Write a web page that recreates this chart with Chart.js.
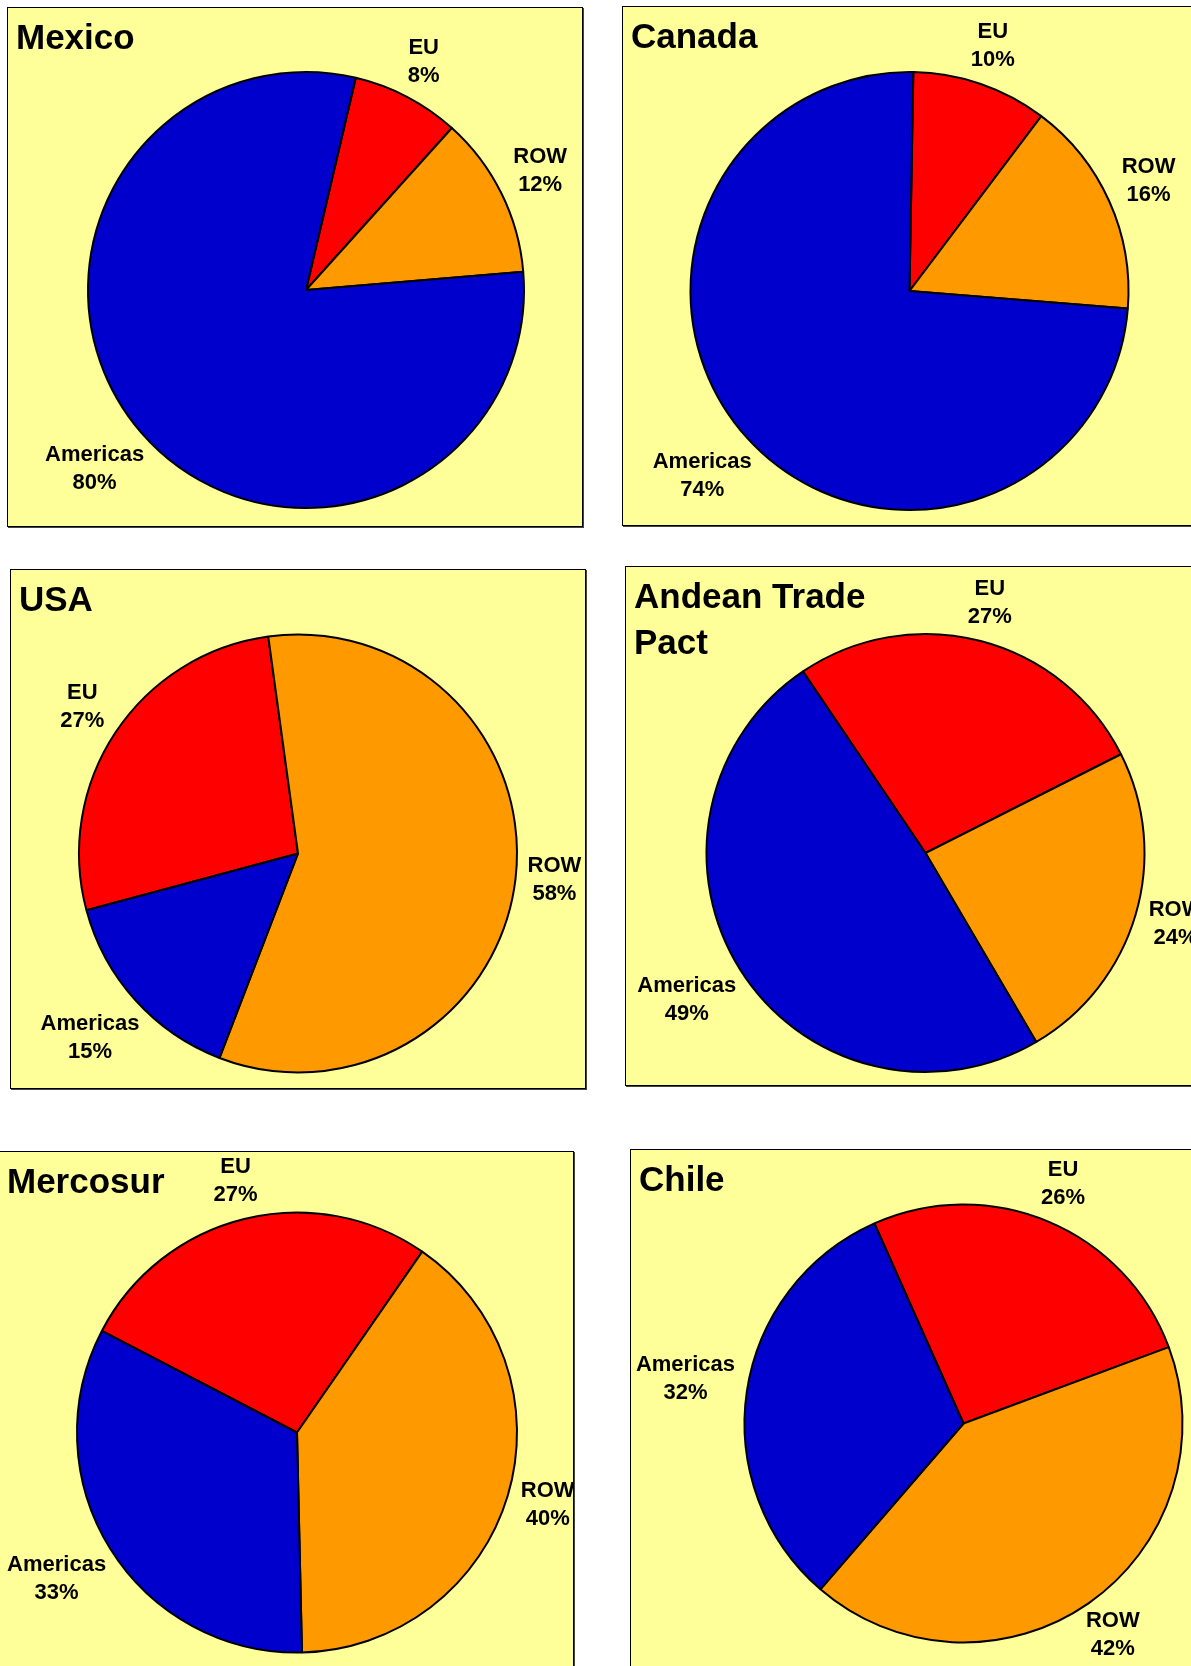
<!DOCTYPE html><html lang="en"><head><meta charset="utf-8">
<title>Export shares by destination</title>
<script src="https://cdn.jsdelivr.net/npm/chart.js@4.4.0/dist/chart.umd.min.js"></script>
<style>
  html, body { margin: 0; padding: 0; width: 1191px; height: 1666px; overflow: hidden; background: #fff; }
  .panel {
    position: absolute;
    box-sizing: border-box;
    width: 576px;
    height: 520px;
    background: #ffff99;
    border: 1px solid #000;
    box-shadow: 1px 1px 0 #444;
  }
  .panel canvas { position: absolute; left: 0; top: 0; }
</style>
</head>
<body>
<div id="charts"></div>

<script>
// data
const regions = ['Mexico', 'Canada', 'USA', ['Andean Trade', 'Pact'], 'Mercosur', 'Chile'];
const categories = ['EU', 'ROW', 'Americas'];
const euShare       = [8, 10, 27, 27, 27, 26];
const rowShare      = [12, 16, 58, 24, 40, 42];
const americasShare = [80, 74, 15, 49, 33, 32];

// layout of the six panels (page px) and the pie inside each one
const panelLeft = [7, 622, 10, 625, -2, 630];
const panelTop  = [7, 6, 569, 566, 1151, 1149];
const pieX      = [298, 286.5, 287, 299.5, 298, 332.5];
const pieY      = [282, 284, 283.5, 286, 280.5, 273.5];
const pieR      = [218, 219, 219, 219, 220, 219];
const startAngle = [13.2, 1, -105, -34, -62.5, -24];

const sliceColors = ['#ff0000', '#ff9900', '#0000cc'];
const W = 574, H = 518;
const FONT = '"Liberation Sans", Arial, sans-serif';

// titles and the "name / xx%" labels outside each slice
const sliceLabels = {
  id: 'sliceLabels',
  afterDatasetsDraw(chart, args, opts) {
    const ctx = chart.ctx;
    const meta = chart.getDatasetMeta(0);
    const values = chart.data.datasets[0].data;
    ctx.save();
    ctx.fillStyle = '#000';

    ctx.font = 'bold 22px ' + FONT;
    ctx.textAlign = 'center';
    ctx.textBaseline = 'alphabetic';
    meta.data.forEach((arc, i) => {
      const p = arc.getProps(['x', 'y', 'startAngle', 'endAngle', 'outerRadius'], true);
      const mid = (p.startAngle + p.endAngle) / 2;
      const dx = Math.cos(mid), dy = Math.sin(mid);
      const lines = [chart.data.labels[i], values[i] + '%'];
      const hw = Math.max(...lines.map(t => ctx.measureText(t).width)) / 2;
      const dist = p.outerRadius + 10 + hw * Math.abs(dx) + 21 * Math.abs(dy);
      const cx = p.x + dx * dist;
      const cy = p.y + dy * dist - 5;
      ctx.fillText(lines[0], cx, cy - 14 + 8);
      ctx.fillText(lines[1], cx, cy + 14 + 8);
    });

    // panel title
    ctx.font = 'bold 35px ' + FONT;
    ctx.textAlign = 'left';
    const t = Array.isArray(opts.title) ? opts.title : [opts.title];
    t.forEach((line, k) => ctx.fillText(line, 8, 41 + k * 46));
    ctx.restore();
  }
};

const holder = document.getElementById('charts');

regions.forEach((name, i) => {
  const panel = document.createElement('div');
  panel.className = 'panel';
  panel.style.left = panelLeft[i] + 'px';
  panel.style.top = panelTop[i] + 'px';
  const canvas = document.createElement('canvas');
  canvas.width = W;
  canvas.height = H;
  panel.appendChild(canvas);
  holder.appendChild(panel);

  // chart area is a box centred on the pie; radius is fixed below
  const s = 100;
  new Chart(canvas.getContext('2d'), {
    type: 'pie',
    data: {
      labels: categories,
      datasets: [{
        data: [euShare[i], rowShare[i], americasShare[i]],
        backgroundColor: sliceColors,
        borderColor: '#000',
        borderWidth: 2,
      }]
    },
    options: {
      responsive: false,
      animation: false,
      rotation: startAngle[i],
      radius: pieR[i],
      layout: {
        padding: {
          left: pieX[i] - s,
          right: W - pieX[i] - s,
          top: pieY[i] - s,
          bottom: H - pieY[i] - s
        }
      },
      events: [],
      plugins: {
        legend: { display: false },
        tooltip: { enabled: false },
        title: { display: false },
        sliceLabels: { title: name }
      }
    },
    plugins: [sliceLabels]
  });
});
</script>
</body>
</html>
